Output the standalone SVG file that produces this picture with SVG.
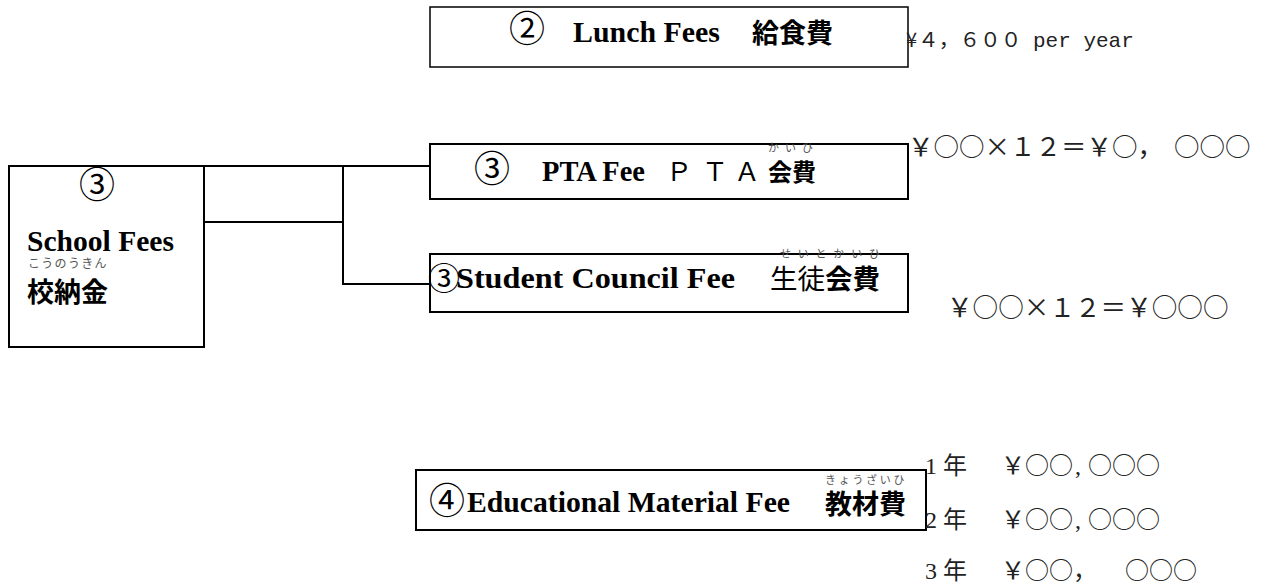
<svg xmlns="http://www.w3.org/2000/svg" width="1269" height="584" viewBox="0 0 1269 584">
<style>
.box{fill:#fff;stroke:#000;stroke-width:2}
.conn{fill:none;stroke:#000;stroke-width:2}
.en{font-family:"Liberation Serif",serif;font-weight:bold;fill:#000}
.jp{font-family:"Noto Sans CJK JP",sans-serif;fill:#000}
.jb{font-family:"Noto Sans CJK JP",sans-serif;fill:#000;font-weight:bold}
.cn{font-family:"Noto Sans CJK JP",sans-serif;fill:#000}
.ruby{font-family:"Noto Sans CJK JP",sans-serif;fill:#555;font-size:11px}
.amt{font-family:"Noto Sans CJK JP",sans-serif;fill:#222}
.dig{font-family:"Liberation Serif",serif;fill:#222}
.mono{font-family:"Liberation Mono",monospace;fill:#222}
</style>
<rect width="1269" height="584" fill="#fff"/>

<g id="lunch">
<rect class="box" x="430" y="7" width="478" height="60" style="stroke-width:1.5"/>
<text class="cn" x="509" y="42" font-size="36">②</text>
<text class="en" x="573" y="42" font-size="30" textLength="147" lengthAdjust="spacingAndGlyphs">Lunch Fees</text>
<text class="jb" x="752" y="43" font-size="27">給食費</text>
</g>

<g id="school">
<rect class="box" x="9" y="166" width="195" height="181"/>
<text class="cn" x="97" y="198" font-size="36" text-anchor="middle">③</text>
<text class="en" x="27" y="251" font-size="30" textLength="147" lengthAdjust="spacingAndGlyphs">School Fees</text>
<text class="ruby" x="28" y="268" style="font-size:12px" letter-spacing="1.3">こうのうきん</text>
<text class="jb" x="27" y="302" font-size="27">校納金</text>
</g>

<g id="pta">
<rect class="box" x="430" y="144" width="478" height="55"/>
<text class="cn" x="474" y="182" font-size="36">③</text>
<text class="en" x="542" y="181" font-size="30" textLength="103" lengthAdjust="spacingAndGlyphs">PTA Fee</text>
<text class="jp" y="181" font-size="26"><tspan x="666">Ｐ</tspan><tspan x="702">Ｔ</tspan><tspan x="734">Ａ</tspan><tspan class="jb" x="768" font-size="24">会費</tspan></text>
<text class="ruby" x="768" y="152" letter-spacing="6">かいひ</text>
</g>

<g id="student">
<rect class="box" x="430" y="254" width="478" height="58"/>
<text class="cn" x="428" y="290" font-size="32">③</text>
<text class="en" x="456" y="288" font-size="30" textLength="279" lengthAdjust="spacingAndGlyphs">Student Council Fee</text>
<text class="jp" x="770" y="289" font-size="27.5">生徒<tspan class="jb">会費</tspan></text>
<text class="ruby" x="780" y="258" letter-spacing="6.8">せいとかいひ</text>
</g>

<g id="material">
<rect class="box" x="416" y="470" width="510" height="60"/>
<text class="cn" x="429" y="514" font-size="36">④</text>
<text class="en" x="467" y="512" font-size="30" textLength="323" lengthAdjust="spacingAndGlyphs">Educational Material Fee</text>
<text class="jb" x="825" y="514" font-size="27">教材費</text>
<text class="ruby" x="825" y="484" letter-spacing="2.7">きょうざいひ</text>
</g>

<g id="connectors">
<path class="conn" d="M204,166 H430 M204,222 H343 M343,166 V284 H430"/>
</g>

<g id="amounts">
<text y="47"><tspan class="amt" x="906" font-size="20">¥</tspan><tspan class="amt" x="918" font-size="20.7">４，６００</tspan><tspan class="mono" x="1033" font-size="21">per year</tspan></text>
<text class="amt" y="156" font-size="25.5"><tspan x="908">￥○○×１２＝￥○，</tspan><tspan x="1174">○○○</tspan></text>
<text class="amt" x="947" y="317" font-size="25.6">￥○○×１２＝￥○○○</text>
<text y="474" font-size="24"><tspan class="dig" x="925">1</tspan><tspan class="amt" x="943">年</tspan><tspan class="amt" x="1001">￥○○</tspan><tspan class="dig" x="1075">,</tspan><tspan class="amt" x="1088">○○○</tspan></text>
<text y="528" font-size="24"><tspan class="dig" x="925">2</tspan><tspan class="amt" x="943">年</tspan><tspan class="amt" x="1001">￥○○</tspan><tspan class="dig" x="1075">,</tspan><tspan class="amt" x="1088">○○○</tspan></text>
<text y="579" font-size="24"><tspan class="dig" x="925">3</tspan><tspan class="amt" x="943">年</tspan><tspan class="amt" x="1001">￥○○，</tspan><tspan class="amt" x="1125">○○○</tspan></text>
</g>
</svg>
